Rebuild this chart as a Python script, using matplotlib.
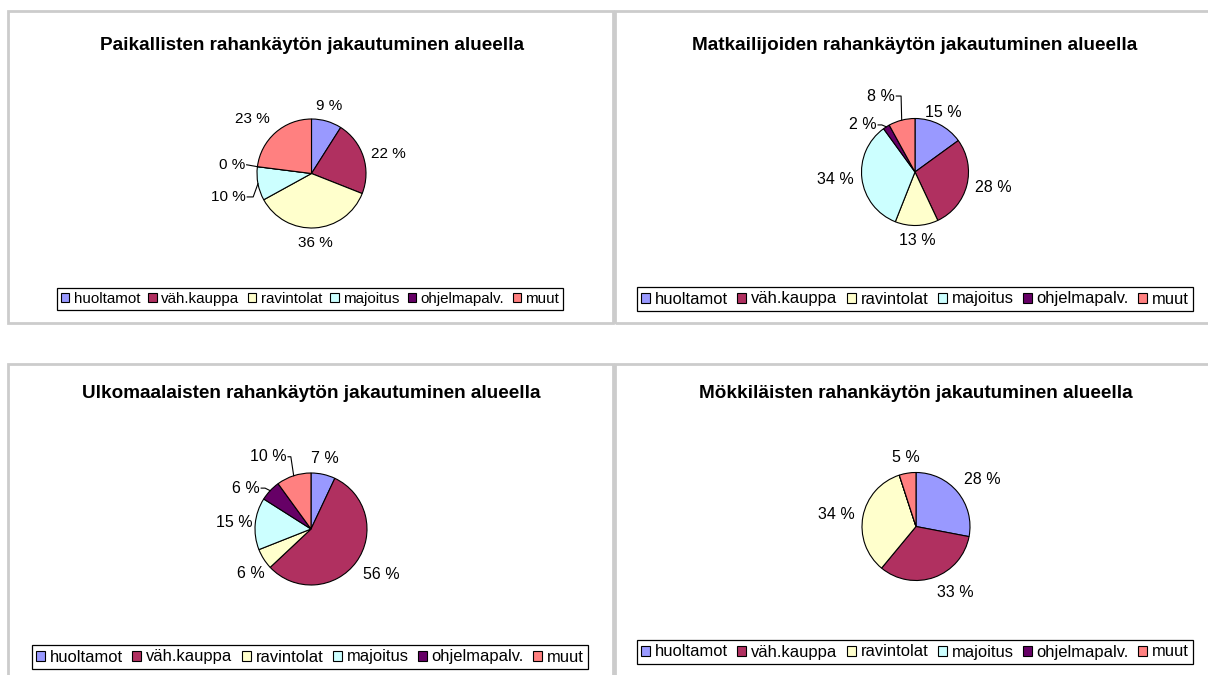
import matplotlib
matplotlib.use('Agg')
import matplotlib.pyplot as plt
from matplotlib.patches import Rectangle, Patch
import numpy as np

plt.rcParams['font.family'] = ['Liberation Sans', 'DejaVu Sans']

# ---------------- data ----------------
categories = ['huoltamot', 'väh.kauppa', 'ravintolat', 'majoitus', 'ohjelmapalv.', 'muut']
colors = ['#9999FF', '#B03060', '#FFFFCC', '#CCFFFF', '#660066', '#FF8080']

titles = ['Paikallisten rahankäytön jakautuminen alueella',
          'Matkailijoiden rahankäytön jakautuminen alueella',
          'Ulkomaalaisten rahankäytön jakautuminen alueella',
          'Mökkiläisten rahankäytön jakautuminen alueella']

paikalliset = [9, 22, 36, 10, 0, 23]
matkailijat = [15, 28, 13, 34, 2, 8]
ulkomaalaiset = [7, 56, 6, 15, 6, 10]
mokkilaiset = [28, 33, 34, 0, 0, 5]

# which data labels are shown (Mökkiläiset has blank cells for two categories)
shown_paikalliset = [True, True, True, True, True, True]
shown_matkailijat = [True, True, True, True, True, True]
shown_ulkomaalaiset = [True, True, True, True, True, True]
shown_mokkilaiset = [True, True, True, False, False, True]

series = [paikalliset, matkailijat, ulkomaalaiset, mokkilaiset]
shown = [shown_paikalliset, shown_matkailijat, shown_ulkomaalaiset, shown_mokkilaiset]

# ---------------- layout (pixels) ----------------
W, H = 1208, 675
fig = plt.figure(figsize=(W / 100, H / 100), dpi=100)
fig.patch.set_facecolor('white')

def fx(x):
    return x / W

def fy(y):
    return 1 - y / H

# panel frames: (x0, y0, x1, y1)
frames = [(8, 11, 613, 323), (615, 11, 1212, 323), (8, 364, 613, 680), (615, 364, 1212, 680)]
for (x0, y0, x1, y1) in frames:
    fig.patches.append(Rectangle((fx(x0), fy(y1)), fx(x1) - fx(x0), fy(y0) - fy(y1),
                                 transform=fig.transFigure, facecolor='none',
                                 edgecolor='#cccccc', linewidth=2.0, clip_on=False))

# per-panel: pie center, radius, title y, legend center, label size, legend size
panels = [
    dict(c=(311.5, 173.5), r=54.5, ty=45, lg=(310, 299), lab=11.0, leg=10.9),
    dict(c=(915, 172), r=53.5, ty=45, lg=(915, 299), lab=11.5, leg=11.9),
    dict(c=(311, 529), r=56, ty=394, lg=(310, 657), lab=11.5, leg=11.9),
    dict(c=(916, 526.5), r=54, ty=394, lg=(915, 652), lab=11.5, leg=11.9),
]

# labels with leader lines: text anchor (right edge, vcenter) and leader path, in pie radii
leaders = {
    (0, 4): dict(t=(-1.21, 0.16), path=[(-1.19, 0.16)]),
    (0, 3): dict(t=(-1.20, -0.43), path=[(-1.18, -0.43), (-1.07, -0.43)]),
    (1, 5): dict(t=(-0.37, 1.42), path=[(-0.35, 1.42), (-0.26, 1.42)]),
    (1, 4): dict(t=(-0.71, 0.88), path=[(-0.69, 0.88), (-0.62, 0.88)]),
    (2, 5): dict(t=(-0.43, 1.29), path=[(-0.41, 1.29), (-0.36, 1.29)]),
    (2, 4): dict(t=(-0.91, 0.73), path=[(-0.89, 0.73), (-0.82, 0.73)]),
}
# small manual nudges (px) for labels Excel placed by "best fit"
nudges = {(3, 1): (18, 0), (2, 3): (6, 0), (2, 2): (8, 2), (1, 0): (0, 3)}

HALF = 125  # half size of pie axes in px

for k, (vals, show, p) in enumerate(zip(series, shown, panels)):
    cx, cy = p['c']
    r = p['r']
    ax = fig.add_axes([fx(cx - HALF), fy(cy + HALF), 2 * HALF / W, 2 * HALF / H])
    lim = HALF / r
    ax.axis('off')
    ax.pie(vals, colors=colors, startangle=90, counterclock=False, radius=1,
           wedgeprops=dict(edgecolor='black', linewidth=0.8))
    ax.set_xlim(-lim, lim)
    ax.set_ylim(-lim, lim)
    ax.set_aspect('equal')

    total = float(sum(vals))
    cum = 0.0
    fs = p['lab']
    for i, v in enumerate(vals):
        mid = np.deg2rad(90 - 360 * (cum + v / 2) / total)
        cum += v
        if not show[i]:
            continue
        txt = f'{v} %'
        if (k, i) in leaders:
            L = leaders[(k, i)]
            ax.text(L['t'][0], L['t'][1], txt, ha='right', va='center', fontsize=fs,
                    color='black')
            pts = L['path'] + [(np.cos(mid), np.sin(mid))]
            ax.plot([q[0] for q in pts], [q[1] for q in pts], color='black', lw=0.8,
                    clip_on=False)
            continue
        c, sn = np.cos(mid), np.sin(mid)
        d = 1.15
        px, py = d * c, d * sn
        ha = 'center' if abs(c) < 0.5 else ('left' if c > 0 else 'right')
        va = 'center' if abs(sn) < 0.5 else ('bottom' if sn > 0 else 'top')
        dx, dy = nudges.get((k, i), (0, 0))
        ax.text(px + dx / r, py - dy / r, txt, ha=ha, va=va, fontsize=fs, color='black')

    # title
    fig.text(fx(cx), fy(p['ty']), titles[k], ha='center', va='center',
             fontsize=13.6, fontweight='bold', color='black')

    # legend
    handles = [Patch(facecolor=colors[j], edgecolor='black', linewidth=0.8,
                     label=categories[j]) for j in range(len(categories))]
    leg = fig.legend(handles=handles, loc='center', ncol=6,
                     bbox_to_anchor=(fx(p['lg'][0]), fy(p['lg'][1])),
                     bbox_transform=fig.transFigure,
                     fontsize=p['leg'], frameon=True, fancybox=False,
                     handlelength=0.55, handleheight=0.55, handletextpad=0.3,
                     columnspacing=0.55, borderpad=0.25, borderaxespad=0.0)
    fr = leg.get_frame()
    fr.set_edgecolor('black')
    fr.set_linewidth(0.9)
    fr.set_alpha(1)

fig.savefig('out.png', dpi=100, facecolor='white')
